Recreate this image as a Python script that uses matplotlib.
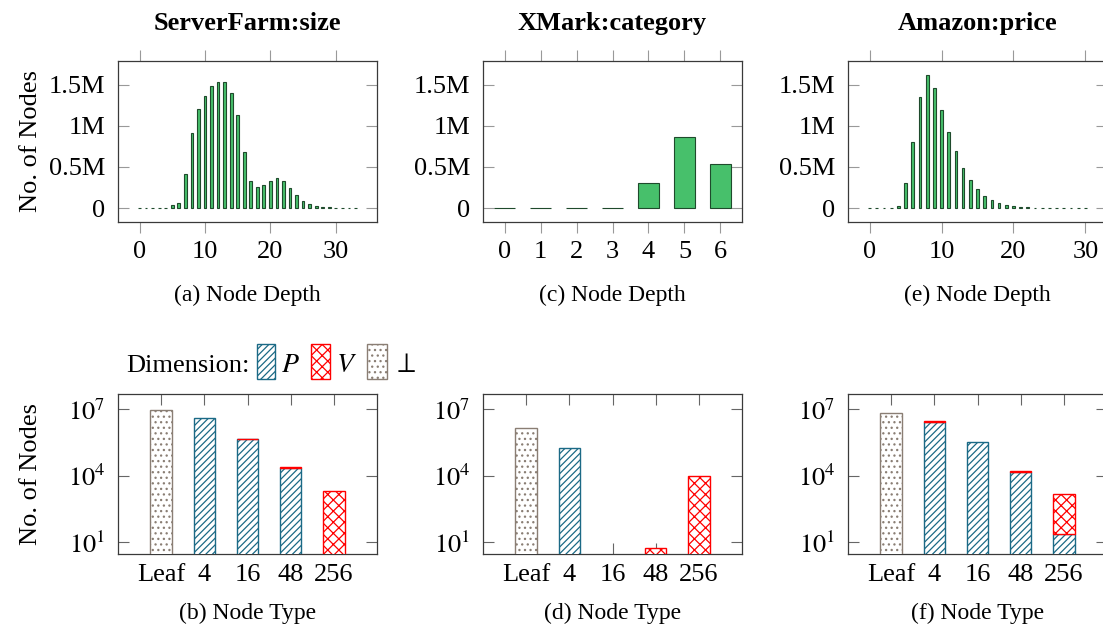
import matplotlib
matplotlib.use("Agg")
import matplotlib.pyplot as plt
import numpy as np
from matplotlib.patches import Rectangle
from matplotlib.ticker import FixedLocator, FuncFormatter

plt.rcParams["font.family"] = ["Liberation Serif", "DejaVu Serif"]
plt.rcParams["mathtext.fontset"] = "stix"
plt.rcParams["hatch.linewidth"] = 0.9

FS = 19      # text inside the plots
CAP_FS = 17  # sub-captions (a)..(f)

# ---- top row: node depth histograms (values in millions) ----
serverfarm_depth = [0.002, 0.003, 0.003, 0.003, 0.003, 0.037, 0.066, 0.41, 0.91, 1.20,
                    1.36, 1.48, 1.54, 1.54, 1.40, 1.13, 0.68, 0.33, 0.26, 0.285,
                    0.33, 0.36, 0.33, 0.25, 0.16, 0.09, 0.054, 0.03, 0.017, 0.012,
                    0.006, 0.005, 0.004, 0.003]
xmark_depth = [0.006, 0.006, 0.006, 0.003, 0.31, 0.86, 0.54]
amazon_depth = [0.001, 0.002, 0.003, 0.004, 0.02, 0.31, 0.81, 1.35, 1.62, 1.46,
                1.19, 0.92, 0.69, 0.49, 0.34, 0.23, 0.15, 0.10, 0.06, 0.033,
                0.02, 0.012, 0.008, 0.006, 0.005, 0.004, 0.003, 0.003, 0.002, 0.002,
                0.002]

depth_titles = ["ServerFarm:size", "XMark:category", "Amazon:price"]
depth_xlabels = ["(a) Node Depth", "(c) Node Depth", "(e) Node Depth"]
depth_xticks = [[0, 10, 20, 30], [0, 1, 2, 3, 4, 5, 6], [0, 10, 20, 30]]

# ---- bottom row: node type counts per dimension ----
node_types = ["Leaf", "4", "16", "48", "256"]
serverfarm_P = [0, 4.1e6, 4.3e5, 2.2e4, 0]
serverfarm_V = [0, 0, 3.0e4, 1.5e3, 1.95e3]
serverfarm_null = [9.0e6, 0, 0, 0, 0]
xmark_P = [0, 1.8e5, 0, 0, 0]
xmark_V = [0, 0, 0, 5.4, 1.0e4]
xmark_null = [1.44e6, 0, 0, 0, 0]
amazon_P = [0, 2.6e6, 3.2e5, 1.5e4, 23]
amazon_V = [0, 1.5e5, 0, 1.5e3, 1480]
amazon_null = [6.4e6, 0, 0, 0, 0]

type_xlabels = ["(b) Node Type", "(d) Node Type", "(f) Node Type"]

GREEN = "#47c06b"
GREEN_EDGE = "#1f4a2c"
P_COLOR = "#1b6a86"
V_COLOR = "#ff0000"
NULL_COLOR = "#8a7e74"
SPINE = "#3a3a3a"

W, H = 1103, 633
LEFTS = [118, 483, 848]
AX_W = 259


def px_axes(left, top, bottom):
    return [left / W, 1 - bottom / H, AX_W / W, (bottom - top) / H]


fig = plt.figure(figsize=(W / 100, H / 100), dpi=100)


def style_axes(ax, tick_color, xdir):
    for s in ax.spines.values():
        s.set_color(SPINE)
        s.set_linewidth(0.9)
    ax.tick_params(axis="x", which="both", direction=xdir, top=True, bottom=True,
                   length=8, width=0.8, color=tick_color, labelsize=FS)
    ax.tick_params(axis="y", which="both", direction="in", left=True, right=True,
                   length=8, width=0.8, color=tick_color, labelsize=FS, pad=9)
    ax.tick_params(axis="y", which="minor", left=False, right=False)


def m_fmt(v, pos):
    if abs(v) < 1e-9:
        return "0"
    return f"{v:g}M"


depth_data = [serverfarm_depth, xmark_depth, amazon_depth]
bar_widths = [0.42, 0.6, 0.38]
for i in range(3):
    ax = fig.add_axes(px_axes(LEFTS[i], 61, 222))
    vals = depth_data[i]
    xs = np.arange(len(vals))
    ax.bar(xs, vals, width=bar_widths[i], color=GREEN, edgecolor=GREEN_EDGE,
           linewidth=0.8, zorder=3)
    n = len(vals) - 1
    ax.set_xlim(-0.1 * n, n * 1.1)
    ax.set_ylim(-0.17, 1.79)
    ax.set_xticks(depth_xticks[i])
    ax.set_yticks([0, 0.5, 1.0, 1.5])
    ax.yaxis.set_major_formatter(FuncFormatter(m_fmt))
    style_axes(ax, "#999999", "out")
    ax.tick_params(axis="x", pad=6)
    ax.text(0.5, 1 + 38 / 161, depth_titles[i], transform=ax.transAxes,
            ha="center", va="center", fontsize=FS, fontweight="bold")
    ax.text(0.5, -73 / 161, depth_xlabels[i], transform=ax.transAxes,
            ha="center", va="center", fontsize=CAP_FS)

fig.text(31 / W, 1 - 141 / H, "No. of Nodes", rotation=90, ha="center",
         va="center", fontsize=FS)


def bars_pos(ax, xs, vals, bottoms, color, hatch):
    for x, v, b in zip(xs, vals, bottoms):
        if v > 0:
            ax.bar(x, v, bottom=b, width=0.5, facecolor="white", edgecolor=color,
                   hatch=hatch, linewidth=1.0, zorder=3)


type_data = [(serverfarm_P, serverfarm_V, serverfarm_null),
             (xmark_P, xmark_V, xmark_null),
             (amazon_P, amazon_V, amazon_null)]
for i in range(3):
    ax = fig.add_axes(px_axes(LEFTS[i], 394, 554))
    ax.set_yscale("log")
    P, V, N = type_data[i]
    xs = np.arange(len(node_types))
    bars_pos(ax, xs, N, [0] * len(N), NULL_COLOR, "...")
    bars_pos(ax, xs, P, [0] * len(P), P_COLOR, "/////")
    bars_pos(ax, xs, V, P, V_COLOR, "xxx")
    ax.set_xlim(-1, 5)
    ax.set_ylim(10 ** 0.46, 10 ** 7.68)
    ax.set_xticks(xs)
    ax.set_xticklabels(node_types)
    ax.yaxis.set_major_locator(FixedLocator([1e1, 1e4, 1e7]))
    ax.yaxis.set_major_formatter(FuncFormatter(lambda v, p: f"$10^{{{int(round(np.log10(v)))}}}$"))
    ax.yaxis.set_minor_locator(FixedLocator([]))
    style_axes(ax, "#666666", "in")
    ax.tick_params(axis="x", pad=7)
    ax.text(0.5, -59 / 160, type_xlabels[i], transform=ax.transAxes,
            ha="center", va="center", fontsize=CAP_FS)

fig.text(31 / W, 1 - 474 / H, "No. of Nodes", rotation=90, ha="center",
         va="center", fontsize=FS)


# ---- legend above panel (b) ----
def fig_rect(x0, y0, x1, y1, color, hatch):
    r = Rectangle((x0 / W, 1 - y1 / H), (x1 - x0) / W, (y1 - y0) / H,
                  transform=fig.transFigure, facecolor="white", edgecolor=color,
                  hatch=hatch, linewidth=1.0)
    fig.add_artist(r)


fig.text(126 / W, 1 - 366 / H, "Dimension:", fontsize=FS, ha="left", va="center")
fig_rect(257, 344, 275, 379, P_COLOR, "/////")
fig.text(281 / W, 1 - 366 / H, "$P$", fontsize=FS + 1, ha="left", va="center")
fig_rect(311, 344, 330, 379, V_COLOR, "xxx")
fig.text(336 / W, 1 - 366 / H, "$V$", fontsize=FS + 1, ha="left", va="center")
fig_rect(367, 344, 387, 379, NULL_COLOR, "...")
fig.text(392 / W, 1 - 366 / H, r"$\perp$", fontsize=FS + 1, ha="left", va="center")

fig.savefig("out.png", dpi=100)
